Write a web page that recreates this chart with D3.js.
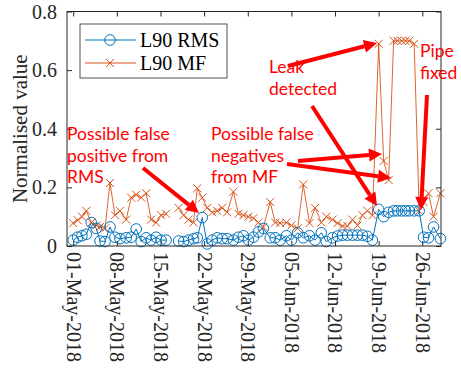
<!DOCTYPE html>
<html><head><meta charset="utf-8">
<script src="https://cdn.jsdelivr.net/npm/d3@7"></script>
<style>body{margin:0;background:#fff}svg{display:block}</style>
</head><body><svg id="c" width="461" height="370"></svg>
<script>
// ---- data ----
const startDate = "2018-05-01";
const dayOffset = [0,0.7,1.4,2.1,2.9,3.7,4.3,5.1,5.9,6.7,7.5,8.5,9.3,10.1,10.9,11.7,12.5,13.3,14.1,14.9,15.9,16.9,17.7,18.5,19.3,19.9,20.7,21.5,22.3,23.1,23.9,24.7,25.7,26.5,27.3,28.1,28.9,29.7,30.5,31.6,32.4,33.2,34.2,35.0,36.0,36.9,37.9,38.8,39.8,40.6,41.6,42.4,43.2,44.0,44.8,45.6,46.4,47.2,48.0,49.0,49.8,50.6,51.4,52.0,52.7,53.3,53.9,54.7,55.5,56.2,57.0,57.8,58.9];
const rmsValues = [.02,.03,.035,.04,.08,.06,.017,.015,.065,.03,.025,.028,.03,.058,.015,.028,.02,.03,.02,.02,null,.017,.015,.02,.025,.028,.097,.007,.02,.028,.025,.025,.02,.03,.035,.02,.03,.048,.06,.028,.028,.02,.035,.02,.045,.028,.035,.02,.045,.015,.028,.034,.037,.037,.037,.037,.037,.033,.02,.125,.10,.115,.12,.12,.12,.12,.12,.12,.12,.03,.028,.065,.025];
const mfValues = [.078,.088,.10,.12,.08,.07,.065,.06,.215,.105,.12,.09,.165,.175,.165,.18,.09,.08,.105,.11,null,.13,.105,.09,.08,.197,.165,.13,.115,.12,.13,.115,.185,.11,.105,.10,.095,.08,.065,.15,.08,.078,.08,.07,.06,.21,.078,.13,.08,.10,.09,.078,.068,.068,.09,.07,.105,.12,.105,.69,.29,.225,.70,.70,.70,.70,.70,.69,.12,.15,.18,.10,.18];
const xTickLabels = ["01-May-2018","08-May-2018","15-May-2018","22-May-2018","29-May-2018","05-Jun-2018","12-Jun-2018","19-Jun-2018","26-Jun-2018"];
const yTicks = [0,0.2,0.4,0.6,0.8];
const seriesNames = ["L90 RMS","L90 MF"];
const colors = ["#0072BD","#D95319"];

// ---- layout ----
const L=67,R=441,T=11.5,B=246;
const svg = d3.select("#c");
const DAY = 864e5;
const t0 = d3.timeParse("%Y-%m-%d")(startDate);
const toDate = d => new Date(t0.getTime()+d*DAY);
const fmt = d3.timeFormat("%d-%b-%Y");
const parseLbl = d3.timeParse("%d-%b-%Y");

const x = d3.scaleTime().domain([toDate(-1), toDate(59)]).range([L,R]);
const y = d3.scaleLinear().domain([0,0.8]).range([B,T]);

const data = dayOffset.map((d,i)=>({t:toDate(d), rms:rmsValues[i], mf:mfValues[i]}));

const serif = "'Liberation Serif','Times New Roman',serif";
const sans = "Lato,'Open Sans',sans-serif";

// lines
const g = svg.append("g");
const lineMF = d3.line().defined(d=>d.mf!=null).x(d=>x(d.t)).y(d=>y(d.mf));
const lineRMS = d3.line().defined(d=>d.rms!=null).x(d=>x(d.t)).y(d=>y(d.rms));
g.append("path").attr("d",lineMF(data)).attr("fill","none").attr("stroke",colors[1]).attr("stroke-width",0.9);
g.append("path").attr("d",lineRMS(data)).attr("fill","none").attr("stroke",colors[0]).attr("stroke-width",1);
const cs=4;
g.selectAll(".mx").data(data.filter(d=>d.mf!=null)).join("path")
  .attr("d",d=>{const cx=x(d.t),cy=y(d.mf);return `M${cx-cs},${cy-cs}L${cx+cs},${cy+cs}M${cx-cs},${cy+cs}L${cx+cs},${cy-cs}`;})
  .attr("stroke",colors[1]).attr("stroke-width",1).attr("fill","none");
g.selectAll(".mo").data(data.filter(d=>d.rms!=null)).join("circle")
  .attr("cx",d=>x(d.t)).attr("cy",d=>y(d.rms)).attr("r",5.3)
  .attr("fill","none").attr("stroke",colors[0]).attr("stroke-width",1);

// axes (box with inward ticks)
const tickDates = xTickLabels.map(parseLbl);
const axG = svg.append("g");
axG.append("g").attr("transform",`translate(0,${B})`)
  .call(d3.axisBottom(x).tickValues(tickDates).tickSize(-5).tickFormat(""));
axG.append("g").attr("transform",`translate(0,${T})`)
  .call(d3.axisTop(x).tickValues(tickDates).tickSize(-5).tickFormat(""));
axG.append("g").attr("transform",`translate(${L},0)`)
  .call(d3.axisLeft(y).tickValues(yTicks).tickSize(-5).tickFormat(""));
axG.append("g").attr("transform",`translate(${R},0)`)
  .call(d3.axisRight(y).tickValues(yTicks).tickSize(-5).tickFormat(""));
axG.selectAll(".tick line").attr("stroke","#262626");
axG.selectAll(".domain").remove();
svg.append("rect").attr("x",L).attr("y",T).attr("width",R-L).attr("height",B-T)
  .attr("fill","none").attr("stroke","#262626").attr("stroke-width",1);

// tick labels
svg.append("g").selectAll("text").data(yTicks).join("text")
  .attr("x",L-10).attr("y",d=>y(d)).attr("dy","0.35em").attr("text-anchor","end")
  .attr("font-family",serif).attr("font-size",20).attr("fill","#262626")
  .text(d=>d3.format("")(d));
svg.append("g").selectAll("text").data(tickDates).join("text")
  .attr("transform",d=>`translate(${x(d)},${B+6}) rotate(90)`)
  .attr("dy","0.33em").attr("text-anchor","start")
  .attr("font-family",serif).attr("font-size",20).attr("fill","#262626")
  .text(d=>fmt(d));
svg.append("text").attr("transform",`translate(27,${(T+B)/2}) rotate(-90)`)
  .attr("text-anchor","middle").attr("font-family",serif).attr("font-size",21).attr("fill","#262626")
  .text("Normalised value");

// legend
const lg = svg.append("g");
lg.append("rect").attr("x",80).attr("y",24).attr("width",147).attr("height",54)
  .attr("fill","#fff").attr("stroke","#262626").attr("stroke-width",0.8);
[0,1].forEach(i=>{
  const yy = 40+i*23;
  lg.append("line").attr("x1",85).attr("x2",136).attr("y1",yy).attr("y2",yy).attr("stroke",colors[i]).attr("stroke-width",1);
  if(i===0) lg.append("circle").attr("cx",110).attr("cy",yy).attr("r",5.3).attr("fill","none").attr("stroke",colors[0]);
  else lg.append("path").attr("d",`M${110-cs},${yy-cs}L${110+cs},${yy+cs}M${110-cs},${yy+cs}L${110+cs},${yy-cs}`).attr("stroke",colors[1]);
  lg.append("text").attr("x",140).attr("y",yy).attr("dy","0.35em").attr("font-family",serif).attr("font-size",20).attr("fill","#000").text(seriesNames[i]);
});

// annotations
const red="#ff0000";
const ann = svg.append("g").attr("font-family",sans).attr("font-size",17.5).attr("fill",red);
function block(x0,y0,lines,pitch){lines.forEach((s,i)=>ann.append("text").attr("x",x0).attr("y",y0+i*pitch).text(s));}
block(67,140,["Possible false","positive from","RMS"],21.5);
block(211,140,["Possible false","negatives","from MF"],21.5);
block(269,73,["Leak","detected"],22);
block(420,57,["Pipe","fixed"],22);

function arrow(x1,y1,x2,y2){
  const a=Math.atan2(y2-y1,x2-x1), hl=13, hw=6.5;
  const bx=x2-hl*Math.cos(a), by=y2-hl*Math.sin(a);
  svg.append("line").attr("x1",x1).attr("y1",y1).attr("x2",bx).attr("y2",by).attr("stroke",red).attr("stroke-width",4);
  svg.append("path").attr("d",`M${x2},${y2}L${bx+hw*Math.sin(a)},${by-hw*Math.cos(a)}L${bx-hw*Math.sin(a)},${by+hw*Math.cos(a)}Z`).attr("fill",red);
}
arrow(288,66,377,43);
arrow(312,106,377,206);
arrow(298,161,382,154);
arrow(287,164,391,178);
arrow(427,95,421,210);
arrow(143,168,199,213);
</script></body></html>
